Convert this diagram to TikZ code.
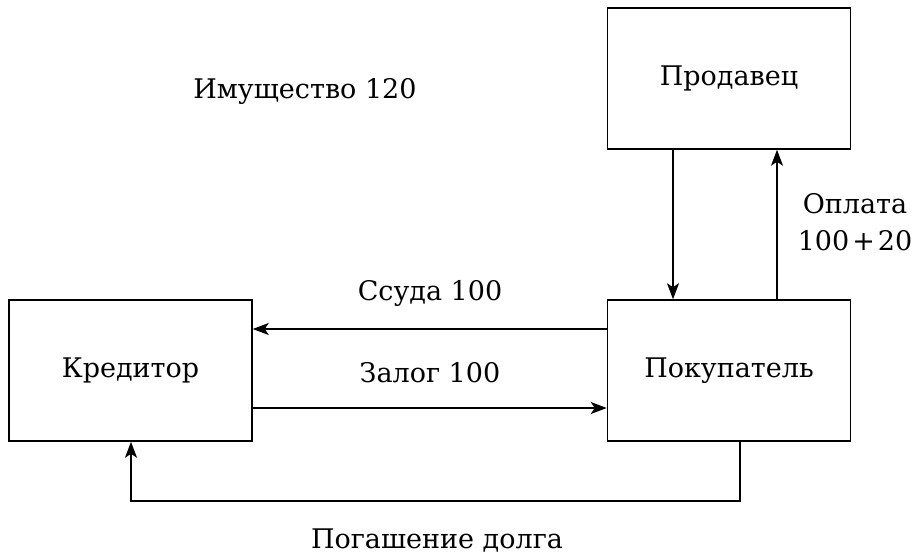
\documentclass[tikz,border=0pt]{standalone}
\usepackage{fontspec}
\setmainfont{DejaVu Serif}
\usetikzlibrary{arrows.meta}
\begin{document}
\begin{tikzpicture}[x=1pt,y=-1pt,
  txt/.style={font=\fontsize{27}{32}\selectfont},
  box/.style={draw, line width=1.5pt, minimum width=243pt, minimum height=141pt, inner sep=0pt, txt},
  lbl/.style={inner sep=0pt, txt},
  conn/.style={line width=1.5pt, -{Stealth[length=16pt,width=12pt,inset=4pt]}}]
\useasboundingbox (0,0) rectangle (917,554);
\node[box] (cred) at (130.5,370.5) {Кредитор};
\node[box] (buy) at (729,370.5) {Покупатель};
\node[box] (sell) at (729,78.5) {Продавец};
\node[lbl, anchor=base] (imu) at (305,98) {Имущество 120};
\node[lbl, anchor=base] (ssuda) at (430,300) {Ссуда 100};
\node[lbl, anchor=base] (zalog) at (430,382) {Залог 100};
\node[lbl, anchor=base] (pog) at (437,548) {Погашение долга};
\node[lbl, anchor=base] (opl) at (855,213) {Оплата};
\node[lbl, anchor=base] (sum) at (855,250) {100\kern3pt+\kern3pt20};
\coordinate (c1) at (740,501);
\coordinate (c2) at (131,501);
\draw[conn] (buy.west |- 0,329) -- (cred.east |- 0,329);
\draw[conn] (cred.east |- 0,408) -- (buy.west |- 0,408);
\draw[conn] (sell.south -| 673,0) -- (buy.north -| 673,0);
\draw[conn] (buy.north -| 777,0) -- (sell.south -| 777,0);
\draw[conn] (buy.south -| c1) -- (c1) -- (c2) -- (cred.south -| c2);
\end{tikzpicture}
\end{document}
